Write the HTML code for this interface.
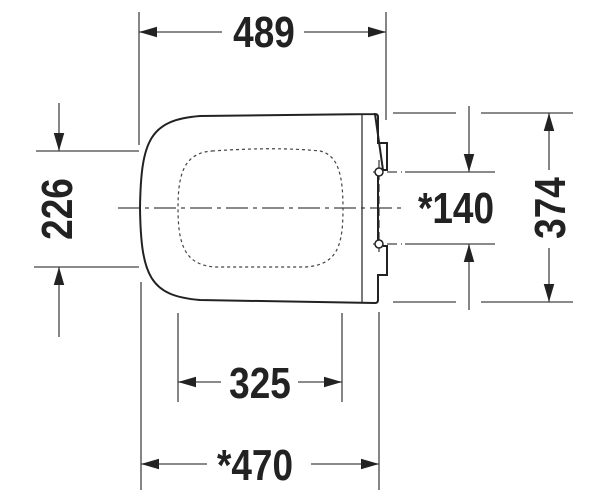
<!DOCTYPE html>
<html><head><style>
html,body{margin:0;padding:0;background:#fff;}
svg{display:block;}
text{font-family:"Liberation Sans",sans-serif;font-weight:bold;fill:#222;font-size:44px;}
</style></head><body>
<svg width="600" height="500" viewBox="0 0 600 500" xmlns="http://www.w3.org/2000/svg">
<defs>
<marker id="b" viewBox="0 0 12 8" refX="12" refY="4" markerWidth="36" markerHeight="12" markerUnits="userSpaceOnUse" orient="auto-start-reverse">
<path d="M0,0.5 L12,4 L0,7.5 Z" fill="#222"/></marker>
</defs>
<g stroke="#444" stroke-width="1.3" fill="none">
<line x1="139" y1="12" x2="139" y2="145"/>
<line x1="386" y1="12" x2="386" y2="120"/>
<line x1="222" y1="32" x2="139" y2="32" marker-end="url(#b)"/>
<line x1="304" y1="32" x2="386" y2="32" marker-end="url(#b)"/>
<line x1="36" y1="151" x2="139" y2="151"/>
<line x1="34" y1="267" x2="139" y2="267"/>
<line x1="59" y1="103" x2="59" y2="151" marker-end="url(#b)"/>
<line x1="59" y1="337" x2="59" y2="267" marker-end="url(#b)"/>
<line x1="393" y1="113" x2="456" y2="113"/>
<line x1="481" y1="113" x2="573" y2="113"/>
<line x1="393" y1="302" x2="456" y2="302"/>
<line x1="481" y1="302" x2="573" y2="302"/>
<line x1="405" y1="172" x2="495" y2="172"/>
<line x1="405" y1="244" x2="495" y2="244"/>
<line x1="469" y1="106" x2="469" y2="172" marker-end="url(#b)"/>
<line x1="469" y1="310" x2="469" y2="244" marker-end="url(#b)"/>
<line x1="549" y1="170" x2="549" y2="113" marker-end="url(#b)"/>
<line x1="549" y1="248" x2="549" y2="302" marker-end="url(#b)"/>
<line x1="178" y1="313" x2="178" y2="402"/>
<line x1="342" y1="313" x2="342" y2="402"/>
<line x1="221" y1="382" x2="178" y2="382" marker-end="url(#b)"/>
<line x1="298" y1="382" x2="342" y2="382" marker-end="url(#b)"/>
<line x1="141" y1="282" x2="141" y2="490"/>
<line x1="379" y1="312" x2="379" y2="490"/>
<line x1="207" y1="464" x2="141" y2="464" marker-end="url(#b)"/>
<line x1="311" y1="464" x2="379" y2="464" marker-end="url(#b)"/>
<line x1="118" y1="208" x2="402" y2="208" stroke-dasharray="22,5,4,5"/>
<line x1="373" y1="172" x2="402" y2="172" stroke-dasharray="10,4"/>
<line x1="373" y1="244" x2="402" y2="244" stroke-dasharray="10,4"/>
<line x1="379" y1="160" x2="379" y2="256" stroke-dasharray="8,4"/>
</g>
<g stroke="#222" fill="none">
<path d="M375,114 L200,116 C150,120 141,140 140,208 C141,276 150,296 200,300 L375,303 Q378,303 378,300 L378,275 L387,275 L387,246 L383,246 M383,170 L387,170 L387,143 L378,143 L378,117 Q378,114 375,114 Z" stroke-width="2"/>
<line x1="378" y1="176" x2="378" y2="240" stroke-width="2"/>
<line x1="362" y1="114" x2="362" y2="303" stroke-width="1.2"/>
<circle cx="379" cy="172" r="4" fill="#fff" stroke-width="1.5"/>
<circle cx="379" cy="244" r="4" fill="#fff" stroke-width="1.5"/>
<path d="M212,151 C255,148 290,148 320,151 C338,155 343,175 343,208 C343,245 338,265 305,267 L215,267 C185,265 178,245 178,208 C178,172 185,153 212,151 Z" stroke="#444" stroke-width="1.2" stroke-dasharray="3,3"/>
</g>
<text x="264" y="47" text-anchor="middle" transform="translate(264 0) scale(0.84 1) translate(-264 0)">489</text>
<text x="260" y="398" text-anchor="middle" transform="translate(260 0) scale(0.84 1) translate(-260 0)">325</text>
<text x="255" y="480" text-anchor="middle" transform="translate(255 0) scale(0.84 1) translate(-255 0)">*470</text>
<text x="456" y="223" text-anchor="middle" transform="translate(456 0) scale(0.84 1) translate(-456 0)">*140</text>
<text text-anchor="middle" transform="translate(72 209) rotate(-90) scale(0.84 1)">226</text>
<text text-anchor="middle" transform="translate(565 208) rotate(-90) scale(0.84 1)">374</text>
</svg>
</body></html>
